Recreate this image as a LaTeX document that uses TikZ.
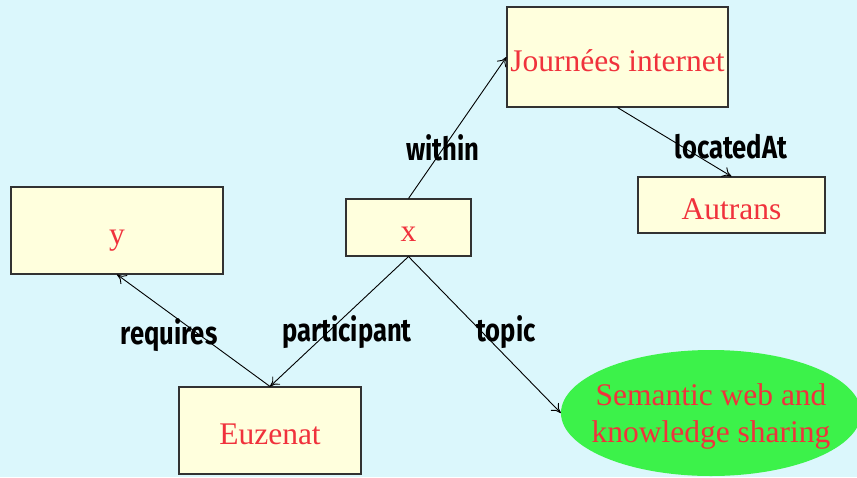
\documentclass[tikz,border=0pt]{standalone}
\usepackage{fontspec}
\setmainfont{Liberation Serif}
\newfontfamily\edgefont[FakeStretch=0.8]{Fira Sans Bold}
\usetikzlibrary{shapes.geometric,arrows.meta}
\definecolor{bgcyan}{RGB}{219,247,252}
\definecolor{boxfill}{RGB}{255,255,221}
\definecolor{boxline}{RGB}{50,50,50}
\definecolor{textred}{RGB}{240,50,60}
\definecolor{blobgreen}{RGB}{60,242,74}
\tikzset{
  concept/.style={draw=boxline, line width=1.1pt, fill=boxfill, inner sep=0pt,
    text=textred, text height=30pt, text depth=2pt,
    font=\fontsize{31.5}{37}\selectfont},
  topicblob/.style={ellipse, fill=blobgreen, inner sep=0pt},
  topictext/.style={inner sep=0pt, text=textred, align=center,
    font=\fontsize{31.5}{37}\selectfont},
  relation/.style={draw=black, line width=0.9pt, -{To[length=9pt,width=11pt]}},
  rellabel/.style={font=\edgefont\fontsize{32}{34}\selectfont, text=black, inner sep=0pt},
}
\begin{document}
\begin{tikzpicture}[x=1pt,y=1pt]
\useasboundingbox (0,0) rectangle (857,-477);
\fill[bgcyan] (0,0) rectangle (857,-477);

% concept boxes
\node[concept, minimum width=221pt, minimum height=100pt] (jour) at (617.5,-57) {Journées internet};
\node[concept, minimum width=187pt, minimum height=56pt] (autrans) at (731.5,-205) {Autrans};
\node[concept, minimum width=212pt, minimum height=87pt] (y) at (117,-230.5) {y};
\node[concept, minimum width=125pt, minimum height=57pt] (x) at (408.5,-227.5) {x};
\node[concept, minimum width=182pt, minimum height=87pt] (euz) at (270,-430.5) {Euzenat};

% topic ellipse, cut off by the lower and right page edges
\begin{scope}
\clip (0,0) rectangle (857,-477);
\node[topicblob, minimum width=300pt, minimum height=126pt] (sem) at (711,-413) {};
\end{scope}
\node[topictext] (semtext) at (711,-416) {Semantic web and\\knowledge sharing};

% relations
\draw[relation] (x.north) -- (jour.west);
\draw[relation] (jour.south) -- (autrans.north);
\draw[relation] (x.south) -- (euz.north);
\draw[relation] (x.south) -- (sem.west);
\draw[relation] (euz.north) -- (y.south);

% relation labels
\node[rellabel] (lwithin) at (443,-148) {within};
\node[rellabel] (llocated) at (731,-147) {locatedAt};
\node[rellabel] (lrequires) at (169,-335) {requires};
\node[rellabel] (lpart) at (347,-332) {participant};
\node[rellabel] (ltopic) at (506,-332) {topic};
\end{tikzpicture}
\end{document}
